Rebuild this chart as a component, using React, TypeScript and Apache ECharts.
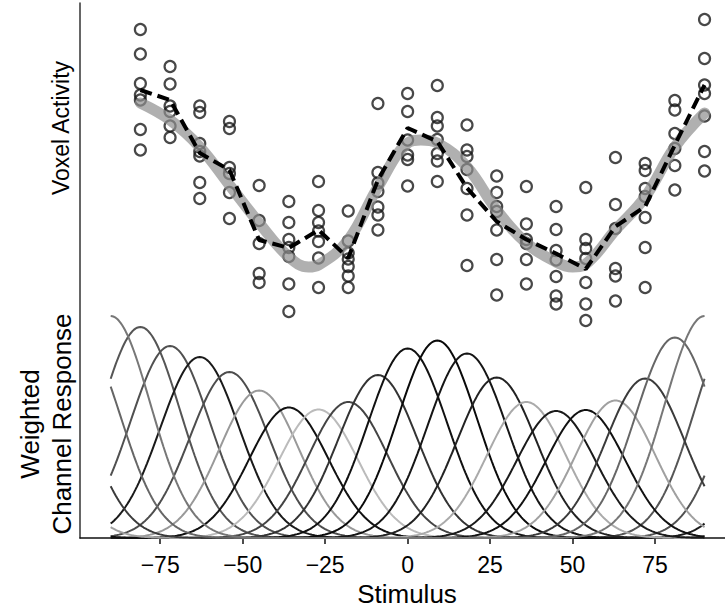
import React, { useEffect, useRef } from "react";
import * as echarts from "echarts";

// Stimulus values (deg) at which voxel activity was sampled
const STIMULI = [-81, -72, -63, -54, -45, -36, -27, -18, -9, 0, 9, 18, 27, 36, 45, 54, 63, 72, 81, 90];

// Individual trial responses per stimulus (arbitrary units)
const TRIALS: number[][] = [
  [101.7, 96.8, 90.9, 88.6, 87.6, 81.7, 77.6],
  [94.3, 90.8, 86.4, 85.3, 82.4, 80.1],
  [86.4, 85.1, 78.9, 77.3, 76.4, 71.1, 67.9],
  [83.3, 81.9, 74.1, 72.9, 69.1, 63.9],
  [70.5, 63.5, 58.9, 52.9, 51.1],
  [67.3, 63.1, 59.7, 58.1, 56.3, 50.8, 45.3],
  [71.3, 65.5, 63.1, 61.4, 59.3, 56.0, 50.1],
  [65.4, 59.4, 57.0, 55.8, 54.3, 52.4, 50.1],
  [86.9, 73.1, 71.0, 69.3, 66.2, 64.6, 61.6],
  [88.9, 85.3, 79.6, 76.6, 75.7, 70.4],
  [90.5, 84.1, 82.4, 79.7, 76.9, 75.4, 71.3],
  [82.6, 77.6, 76.3, 73.7, 69.9, 64.6, 54.5],
  [72.4, 69.1, 66.3, 65.3, 61.6, 55.7, 48.6],
  [70.3, 62.8, 59.7, 58.9, 55.7, 50.8],
  [66.3, 61.7, 57.5, 55.6, 52.3, 48.4, 46.8],
  [70.1, 59.7, 57.9, 55.9, 51.1, 46.8, 43.5],
  [76.1, 66.7, 61.9, 53.9, 52.4, 47.4],
  [74.9, 73.5, 69.9, 68.3, 64.1, 58.1, 50.1],
  [87.5, 85.6, 80.9, 77.9, 74.5, 69.6],
  [103.7, 95.9, 90.6, 88.9, 84.4, 77.3, 73.4],
];

// Mean response per stimulus (dashed line)
const MEANS = [89.6, 87.6, 77.0, 73.6, 59.6, 58.0, 61.6, 56.0, 71.6, 82.0, 79.3, 70.0, 63.3, 59.7, 56.9, 53.8, 62.3, 66.3, 78.6, 90.6];

// Smooth model fit (thick gray line)
const FIT_X = [-81, -72, -63, -54, -45, -36, -30, -27, -18, -9, 0, 4, 9, 18, 27, 36, 45, 50, 54, 63, 72, 81, 90];
const FIT_Y = [87.0, 83.6, 78.2, 70.6, 63.0, 56.2, 54.2, 54.6, 59.6, 70.2, 79.0, 79.6, 79.0, 74.2, 65.6, 59.0, 55.2, 54.2, 54.8, 61.6, 68.2, 78.2, 85.0];

// Channel centers, weights and line shades
const CHANNEL_CENTERS = [-81, -72, -63, -54, -45, -36, -27, -18, -9, 0, 9, 18, 27, 36, 45, 54, 63, 72, 81, 90];
const CHANNEL_WEIGHTS = [42.2, 38.4, 36.2, 33.2, 29.5, 26.1, 25.7, 27.2, 32.6, 37.9, 39.5, 36.9, 32.1, 27.2, 25.4, 25.6, 27.5, 31.9, 40.1, 44.4];
const CHANNEL_SHADES = ["#555555", "#505050", "#1a1a1a", "#4d4d4d", "#999999", "#111111", "#bbbbbb", "#444444", "#333333", "#111111",
  "#0a0a0a", "#151515", "#222222", "#aaaaaa", "#1a1a1a", "#111111", "#a0a0a0", "#3a3a3a", "#666666", "#777777"];
const TUNING_SIGMA = 12; // deg
const STIM_RANGE = [-90, 90];

const X_TICKS = [-75, -50, -25, 0, 25, 50, 75];

const FONT = "'Liberation Sans', Arial, Helvetica, sans-serif";

function tuning(x: number, c: number): number {
  const d = (((x - c + 90) % 180) + 180) % 180 - 90;
  return Math.exp(-(d * d) / (2 * TUNING_SIGMA * TUNING_SIGMA));
}

export default function App() {
  const ref = useRef<HTMLDivElement>(null);
  useEffect(() => {
    if (!ref.current) return;
    const chart = echarts.init(ref.current, undefined, { renderer: "svg" });

    const grid: number[] = [];
    for (let x = STIM_RANGE[0]; x <= STIM_RANGE[1] + 1e-9; x += 0.5) grid.push(x);

    const channelSeries = CHANNEL_CENTERS.map((c, i) => ({
      type: "line",
      data: grid.map((x) => [x, CHANNEL_WEIGHTS[i] * tuning(x, c)]),
      showSymbol: false,
      lineStyle: { color: CHANNEL_SHADES[i], width: 2 },
      z: 2,
      silent: true,
    }));

    const scatterData: number[][] = [];
    STIMULI.forEach((s, i) => TRIALS[i].forEach((v) => scatterData.push([s, v])));

    const option: any = {
      animation: false,
      grid: { left: 80, right: 0, top: 3, bottom: 73, containLabel: false },
      xAxis: {
        type: "value",
        min: -99.3,
        max: 96.2,
        axisLine: { show: true, onZero: false, lineStyle: { color: "#111", width: 1.5 } },
        axisTick: { show: true, length: 6, customValues: X_TICKS, lineStyle: { color: "#111", width: 1.5 } },
        axisLabel: {
          customValues: X_TICKS,
          margin: 15,
          fontSize: 23,
          fontFamily: FONT,
          color: "#000",
          formatter: (v: number) => (v < 0 ? "\u2212" + Math.abs(v) : String(v)),
        },
        splitLine: { show: false },
      },
      yAxis: {
        type: "value",
        min: 0,
        max: 107,
        axisLine: { show: true, onZero: false, lineStyle: { color: "#333", width: 1.5 } },
        axisTick: { show: false },
        axisLabel: { show: false },
        splitLine: { show: false },
      },
      series: [
        ...channelSeries,
        {
          type: "scatter",
          data: scatterData,
          symbol: "circle",
          symbolSize: 11,
          itemStyle: { color: "rgba(0,0,0,0)", borderColor: "#1a1a1a", borderWidth: 2.2 },
          z: 3,
          silent: true,
        },
        {
          type: "line",
          data: FIT_X.map((x, i) => [x, FIT_Y[i]]),
          smooth: 0.4,
          showSymbol: false,
          lineStyle: { color: "#8e8e8e", width: 11, opacity: 0.7, cap: "round" },
          z: 4,
          silent: true,
        },
        {
          type: "line",
          data: STIMULI.map((s, i) => [s, MEANS[i]]),
          showSymbol: false,
          lineStyle: { color: "#000", width: 4, type: [12, 6] },
          z: 5,
          silent: true,
        },
      ],
      graphic: [
        {
          type: "text",
          x: 407,
          y: 594,
          style: { text: "Stimulus", fontSize: 26, fontFamily: FONT, fill: "#000", align: "center", verticalAlign: "middle" },
        },
        {
          type: "text",
          x: 61,
          y: 128,
          rotation: Math.PI / 2,
          style: { text: "Voxel Activity", fontSize: 23, fontFamily: FONT, fill: "#000", align: "center", verticalAlign: "middle" },
        },
        {
          type: "text",
          x: 46,
          y: 424,
          rotation: Math.PI / 2,
          style: {
            text: "Weighted\nChannel Response",
            fontSize: 26,
            lineHeight: 32,
            fontFamily: FONT,
            fill: "#000",
            align: "center",
            verticalAlign: "middle",
          },
        },
      ],
    };
    chart.setOption(option);
    return () => chart.dispose();
  }, []);
  return <div ref={ref} style={{ position: "fixed", left: 0, top: 0, width: 725, height: 611, background: "#fff" }} />;
}
